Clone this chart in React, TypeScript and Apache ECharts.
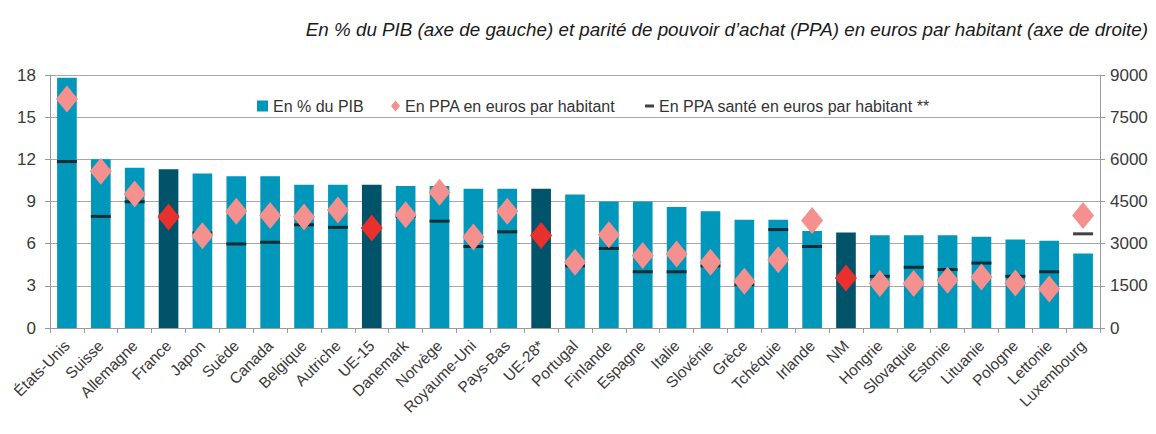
import React, { useEffect, useRef } from "react";
import * as echarts from "echarts";

const categories = [
  "États-Unis", "Suisse", "Allemagne", "France", "Japon", "Suède", "Canada", "Belgique",
  "Autriche", "UE-15", "Danemark", "Norvège", "Royaume-Uni", "Pays-Bas", "UE-28*", "Portugal",
  "Finlande", "Espagne", "Italie", "Slovénie", "Grèce", "Tchéquie", "Irlande", "NM",
  "Hongrie", "Slovaquie", "Estonie", "Lituanie", "Pologne", "Lettonie", "Luxembourg",
];

// Dépense en % du PIB (axe de gauche)
const pctPIB = [
  17.8, 12.0, 11.4, 11.3, 11.0, 10.8, 10.8, 10.2,
  10.2, 10.2, 10.1, 10.1, 9.9, 9.9, 9.9, 9.5,
  9.0, 9.0, 8.6, 8.3, 7.7, 7.7, 6.9, 6.8,
  6.6, 6.6, 6.6, 6.5, 6.3, 6.2, 5.3,
];

// En PPA en euros par habitant (axe de droite)
const ppaHabitant = [
  8150, 5580, 4770, 3950, 3280, 4150, 4000, 3950,
  4200, 3560, 4030, 4830, 3240, 4150, 3290, 2340,
  3320, 2580, 2630, 2340, 1660, 2430, 3820, 1780,
  1580, 1580, 1700, 1810, 1600, 1390, 4000,
];

// En PPA santé en euros par habitant (axe de droite)
const ppaSante: (number | null)[] = [
  5920, 3970, 4490, 3970, 3380, 2990, 3050, 3670,
  3580, null, 3970, 3800, 2900, 3420, null, 2210,
  2830, 2000, 2000, 2210, 1540, 3500, 2900, null,
  1840, 2160, 2080, 2310, 1840, 2000, 3350,
];

const aggregates = ["France", "UE-15", "UE-28*", "NM"];

const leftTicks = { min: 0, max: 18, interval: 3 };
const rightTicks = { min: 0, max: 9000, interval: 1500 };

const TITLE =
  "En % du PIB (axe de gauche) et parité de pouvoir d’achat (PPA) en euros par habitant (axe de droite)";

const BAR = "#0097BA";
const BAR_DARK = "#01536A";
const DIAM = "#F4908E";
const DIAM_DARK = "#E8302C";
const FONT = "'Liberation Sans', Arial, sans-serif";

export default function App() {
  const ref = useRef<HTMLDivElement>(null);
  useEffect(() => {
    if (!ref.current) return;
    const chart = echarts.init(ref.current, null, { renderer: "svg" });
    const legendText = { color: "#333333", fontSize: 16, fontFamily: FONT };
    chart.setOption({
      animation: false,
      backgroundColor: "#ffffff",
      title: {
        text: TITLE,
        right: 3,
        top: 15,
        textStyle: {
          fontFamily: FONT,
          fontStyle: "italic",
          fontWeight: "normal",
          fontSize: 18.8,
          color: "#1a1a1a",
        },
      },
      legend: [
        {
          data: [{ name: "En % du PIB", icon: "rect" }],
          left: 252,
          top: 93,
          itemWidth: 11,
          itemHeight: 11,
          itemGap: 0,
          textStyle: legendText,
        },
        {
          data: [{ name: "En PPA en euros par habitant", icon: "diamond" }],
          left: 386,
          top: 93,
          itemWidth: 9,
          itemHeight: 11,
          textStyle: legendText,
        },
        {
          data: [{ name: "En PPA santé en euros par habitant **", icon: "rect" }],
          left: 640,
          top: 93,
          itemWidth: 9,
          itemHeight: 3,
          textStyle: legendText,
        },
      ],
      grid: { left: 50, right: 56, top: 75, bottom: 106, containLabel: false },
      xAxis: {
        type: "category",
        data: categories,
        boundaryGap: true,
        axisLine: { lineStyle: { color: "#9a9a9a", width: 1 } },
        axisTick: { show: true, alignWithLabel: false, length: 5, lineStyle: { color: "#9a9a9a" } },
        axisLabel: {
          interval: 0,
          rotate: 45,
          margin: 15,
          color: "#3a3a3a",
          fontSize: 15.5,
          fontFamily: FONT,
        },
      },
      yAxis: [
        {
          type: "value",
          ...leftTicks,
          position: "left",
          axisLine: { show: true, lineStyle: { color: "#9a9a9a" } },
          axisTick: { show: true, length: 5, lineStyle: { color: "#9a9a9a" } },
          axisLabel: { color: "#3a3a3a", fontSize: 17, fontFamily: FONT, margin: 14 },
          splitLine: { show: true, lineStyle: { color: "#a8a8a8", width: 1.2 } },
        },
        {
          type: "value",
          ...rightTicks,
          position: "right",
          axisLine: { show: true, lineStyle: { color: "#9a9a9a" } },
          axisTick: { show: true, length: 5, lineStyle: { color: "#9a9a9a" } },
          axisLabel: {
            color: "#3a3a3a",
            fontSize: 17,
            fontFamily: FONT,
            margin: 10,
            formatter: (v: number) => String(v),
          },
          splitLine: { show: false },
        },
      ],
      series: [
        {
          name: "En % du PIB",
          type: "bar",
          yAxisIndex: 0,
          barWidth: "58%",
          itemStyle: { color: BAR },
          data: pctPIB.map((v, i) => ({
            value: v,
            itemStyle: { color: aggregates.includes(categories[i]) ? BAR_DARK : BAR },
          })),
          z: 1,
        },
        {
          name: "En PPA santé en euros par habitant **",
          type: "scatter",
          yAxisIndex: 1,
          symbol: "rect",
          symbolSize: [20, 3],
          itemStyle: { color: "#111111" },
          data: ppaSante.map((v) => (v == null ? "-" : v)),
          z: 3,
        },
        {
          name: "En PPA en euros par habitant",
          type: "scatter",
          yAxisIndex: 1,
          symbol: "diamond",
          symbolSize: [22, 27],
          itemStyle: { color: DIAM, opacity: 1 },
          data: ppaHabitant.map((v, i) => ({
            value: v,
            itemStyle: { color: aggregates.includes(categories[i]) ? DIAM_DARK : DIAM },
          })),
          z: 4,
        },
      ],
    });
    return () => chart.dispose();
  }, []);
  return <div ref={ref} style={{ width: 1156, height: 434, margin: -8 }} />;
}
